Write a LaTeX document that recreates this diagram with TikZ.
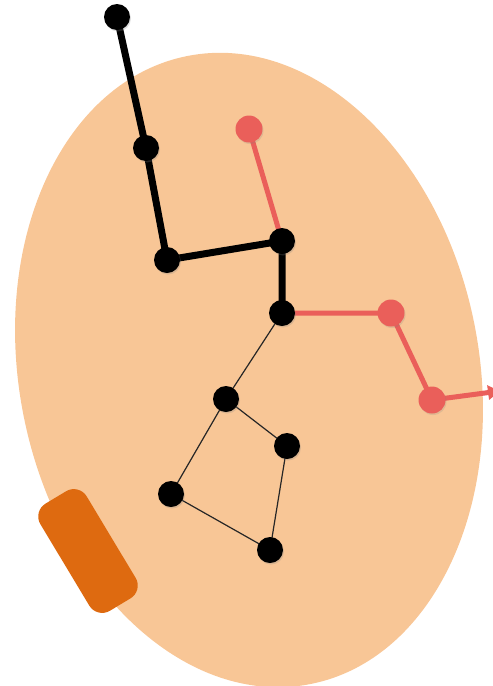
\documentclass[tikz,border=0pt]{standalone}
\usetikzlibrary{arrows.meta,shadows}
\definecolor{peach}{HTML}{F8C696}
\definecolor{burnt}{HTML}{DE6A10}
\definecolor{coral}{HTML}{EA5F5A}
\begin{document}
\begin{tikzpicture}[x=1pt,y=-1pt,
  bdot/.style={circle,fill=black,minimum size=26pt,inner sep=0pt,
    drop shadow={shadow xshift=1pt,shadow yshift=-1.5pt,opacity=0.25}},
  rdot/.style={circle,fill=coral,minimum size=27pt,inner sep=0pt,
    drop shadow={shadow xshift=1pt,shadow yshift=-1.5pt,opacity=0.2}},
  thick edge/.style={line width=7pt,black},
  thin edge/.style={line width=1.2pt,black!85},
  red edge/.style={line width=5pt,coral}]
\useasboundingbox (0,0) rectangle (493,686);
\clip (0,0) rectangle (493,686);
% blob
\fill[peach, rotate around={11:(249,370)}] (249,370) ellipse [x radius=230, y radius=320];
% orange pad
\node[fill=burnt,rounded corners=15pt,minimum width=125pt,minimum height=54pt,
  rotate=-59,inner sep=0pt] (pad) at (88,551) {};
% coordinates
\coordinate (n0) at (117,17);
\coordinate (n1) at (146,148);
\coordinate (n2) at (167,260);
\coordinate (n3) at (282,241);
\coordinate (n4) at (282,313);
\coordinate (n5) at (226,399);
\coordinate (n6) at (287,446);
\coordinate (n7) at (171,494);
\coordinate (n8) at (270,550);
\coordinate (r0) at (249,129);
\coordinate (r1) at (391,313);
\coordinate (r2) at (432,400);
\coordinate (rend) at (500,391);
% edges
\draw[red edge] (r0) -- (n3);
\draw[red edge] (n4) -- (r1) -- (r2);
\draw[red edge,-{Triangle[length=12pt,width=14pt]}] (r2) -- (rend);
\draw[thick edge,line join=round] (n0) -- (n1) -- (n2) -- (n3) -- (n4);
\draw[thin edge] (n4) -- (n5) -- (n6) -- (n8) -- (n7) -- (n5);
% dots
\foreach \n in {n0,n1,n2,n3,n4,n5,n6,n7,n8} \node[bdot] (d\n) at (\n) {};
\foreach \n in {r0,r1,r2} \node[rdot] (d\n) at (\n) {};
\end{tikzpicture}
\end{document}
